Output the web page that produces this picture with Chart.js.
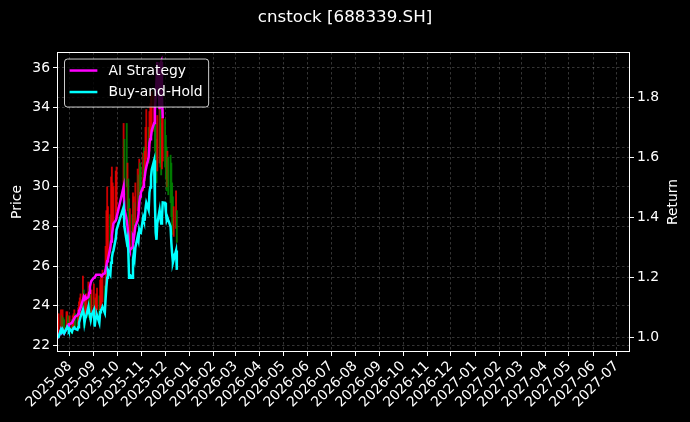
<!DOCTYPE html>
<html>
<head>
<meta charset="utf-8">
<script src="https://cdn.jsdelivr.net/npm/chart.js@4/dist/chart.umd.min.js"></script>
<style>
html,body{margin:0;padding:0;background:#000;}
#wrap{width:690px;height:422px;position:relative;}
</style>
</head>
<body>
<div id="wrap"><canvas id="c" width="690" height="422"></canvas></div>
<script>
const chartTitle = 'cnstock [688339.SH]';
const seriesNames = ['AI Strategy', 'Buy-and-Hold'];
const axisTitles = ['Price', 'Return'];

const dates = [
'2025-07-17','2025-07-18','2025-07-21','2025-07-22','2025-07-23','2025-07-24','2025-07-25','2025-07-28','2025-07-29','2025-07-30','2025-07-31',
'2025-08-01','2025-08-04','2025-08-05','2025-08-06','2025-08-07','2025-08-08','2025-08-11','2025-08-12','2025-08-13','2025-08-14','2025-08-15',
'2025-08-18','2025-08-19','2025-08-20','2025-08-21','2025-08-22','2025-08-25','2025-08-26','2025-08-27','2025-08-28','2025-08-29',
'2025-09-01','2025-09-02','2025-09-03','2025-09-04','2025-09-05','2025-09-08','2025-09-09','2025-09-10','2025-09-11','2025-09-12',
'2025-09-15','2025-09-16','2025-09-17','2025-09-18','2025-09-19','2025-09-22','2025-09-23','2025-09-24','2025-09-25','2025-09-26',
'2025-09-29','2025-09-30',
'2025-10-09','2025-10-10','2025-10-13','2025-10-14','2025-10-15','2025-10-16','2025-10-17','2025-10-20','2025-10-21','2025-10-22',
'2025-10-23','2025-10-24','2025-10-27','2025-10-28','2025-10-29','2025-10-30','2025-10-31',
'2025-11-03','2025-11-04','2025-11-05','2025-11-06','2025-11-07','2025-11-10','2025-11-11','2025-11-12','2025-11-13','2025-11-14',
'2025-11-17','2025-11-18','2025-11-19','2025-11-20','2025-11-21','2025-11-24','2025-11-25','2025-11-26','2025-11-27','2025-11-28',
'2025-12-01','2025-12-02','2025-12-03','2025-12-04','2025-12-05','2025-12-08','2025-12-09','2025-12-10','2025-12-11','2025-12-12',
'2025-12-15','2025-12-16'
];

const priceLow = [
22.4,22.6,22.9,22.7,22.9,22.7,22.6,22.8,23.0,22.9,22.7,
22.8,22.6,22.8,22.9,23.0,22.9,22.8,23.0,23.3,23.5,23.6,
23.6,23.6,22.9,23.4,23.6,23.6,23.4,23.3,23.2,23.4,
23.6,23.1,23.4,23.6,23.8,23.4,23.8,24.0,24.0,24.2,
23.9,24.8,25.5,26.0,26.5,26.7,27.2,27.5,28.0,28.2,
28.3,28.8,
29.5,29.6,30.0,28.8,28.2,26.9,26.8,26.8,27.4,27.8,
27.6,28.2,28.8,29.0,29.6,29.5,29.4,
29.8,30.2,30.3,31.0,31.4,31.2,31.8,32.2,32.6,33.0,
32.8,31.8,30.6,30.2,30.8,31.2,31.0,30.6,30.9,31.3,
31.0,30.4,29.8,30.0,29.6,29.2,28.5,28.0,27.6,27.5,
27.9,27.2
];

const priceHigh = [
23.4,23.6,23.8,23.5,23.8,23.4,23.3,23.7,23.7,23.5,23.4,
23.5,23.3,23.5,23.6,23.8,23.6,23.5,23.9,24.2,24.4,24.6,
25.5,24.8,24.4,24.5,24.6,25.2,24.9,24.7,24.5,24.8,
25.1,24.3,24.4,24.6,24.9,24.5,25.3,25.5,25.3,25.8,
25.0,27.0,28.8,30.0,29.0,28.6,30.5,31.0,30.2,30.0,
30.8,31.0,
33.2,32.4,33.2,31.2,30.4,29.4,28.9,28.6,29.7,29.5,
29.2,30.2,30.9,30.6,31.4,31.2,31.0,
31.7,32.0,31.8,33.0,33.9,33.0,33.8,34.2,34.6,34.8,
34.6,34.0,33.2,32.4,33.6,34.0,33.9,33.2,33.5,33.9,
33.4,32.6,32.0,31.8,31.5,31.6,31.2,30.2,29.5,29.0,
29.8,28.8
];

const aiStrategy = [
1.000,1.003,1.027,1.020,1.027,1.020,1.015,1.030,1.037,1.040,1.045,
1.045,1.050,1.055,1.060,1.065,1.070,1.075,1.080,1.090,1.093,1.100,
1.126,1.136,1.130,1.136,1.130,1.136,1.150,1.170,1.183,1.190,
1.200,1.200,1.205,1.210,1.210,1.210,1.210,1.210,1.205,1.210,
1.215,1.226,1.240,1.255,1.260,1.300,1.320,1.340,1.360,1.380,
1.390,1.400,
1.502,1.430,1.390,1.370,1.340,1.300,1.292,1.300,1.336,1.330,
1.350,1.370,1.390,1.410,1.449,1.470,1.482,
1.502,1.520,1.535,1.555,1.568,1.600,1.648,1.660,1.668,1.690,
1.714,1.757,1.800,1.850,1.917,1.760,1.910,1.917,1.800,1.730,
null,null,null,null,null,null,null,null,null,null,
null,null
];

const buyHold = [
1.000,1.003,1.027,1.020,1.027,1.020,1.015,1.030,1.037,1.033,1.025,
1.030,1.020,1.028,1.033,1.035,1.030,1.027,1.035,1.050,1.060,1.070,
1.093,1.080,1.050,1.065,1.070,1.103,1.083,1.075,1.060,1.075,
1.093,1.037,1.060,1.070,1.075,1.050,1.085,1.093,1.095,1.103,
1.083,1.130,1.170,1.200,1.226,1.210,1.250,1.265,1.282,1.290,
1.330,1.359,
1.435,1.370,1.320,1.330,1.290,1.200,1.210,1.200,1.260,1.280,
1.265,1.300,1.336,1.325,1.359,1.350,1.349,
1.400,1.390,1.392,1.430,1.449,1.425,1.482,1.500,1.535,1.560,
1.590,1.450,1.350,1.326,1.380,1.425,1.400,1.380,1.400,1.450,
1.449,1.420,1.392,1.400,1.392,1.370,1.316,1.280,1.250,1.260,
1.290,1.226
];

const monthTicks = [
'2025-08','2025-09','2025-10','2025-11','2025-12',
'2026-01','2026-02','2026-03','2026-04','2026-05','2026-06','2026-07','2026-08','2026-09','2026-10','2026-11','2026-12',
'2027-01','2027-02','2027-03','2027-04','2027-05','2027-06','2027-07'
];
const priceTicks = [22, 24, 26, 28, 30, 32, 34, 36];
const returnTicks = [1.0, 1.2, 1.4, 1.6, 1.8];

// ---- styling ----
const FONT = 'DejaVu Sans';
const TICK_SIZE = 13.9;
const upColor = 'rgba(235,0,0,0.85)';
const downColor = 'rgba(0,130,0,0.9)';
const gridColor = 'rgba(255,255,255,0.26)';
const DAY = 86400000;
const toMs = s => Date.parse(s + 'T00:00:00Z');
const xMin = Date.UTC(2025, 6, 16) - 0.1 * DAY;
const xMax = Date.UTC(2027, 6, 18);

const xs = dates.map(toMs);
const barData = xs.map((x, i) => ({x: x, y: [priceLow[i], priceHigh[i]]}));
const barColors = buyHold.map((v, i) => (i === 0 || v >= buyHold[i - 1]) ? upColor : downColor);
const aiData = xs.map((x, i) => ({x: x, y: aiStrategy[i]}));
const bhData = xs.map((x, i) => ({x: x, y: buyHold[i]}));

const framePlugin = {
  id: 'frameAndLegend',
  afterDatasetsDraw(chart) {
    const {ctx, chartArea: a} = chart;
    ctx.save();
    ctx.strokeStyle = '#ffffff';
    ctx.lineWidth = 1;
    ctx.strokeRect(Math.round(a.left) + 0.5, Math.round(a.top) + 0.5,
                   Math.round(a.right - a.left) - 1, Math.round(a.bottom - a.top) - 1);

    // right axis title, reading bottom-to-top like matplotlib
    ctx.save();
    ctx.translate(673.5, (a.top + a.bottom) / 2);
    ctx.rotate(-Math.PI / 2);
    ctx.font = TICK_SIZE + 'px "' + FONT + '"';
    ctx.fillStyle = '#ffffff';
    ctx.textAlign = 'center';
    ctx.textBaseline = 'middle';
    ctx.fillText(axisTitles[1], 0, 0);
    ctx.restore();

    // legend (matplotlib style, upper left)
    const fs = TICK_SIZE;
    ctx.font = fs + 'px "' + FONT + '"';
    const items = [
      {label: chart.data.datasets[1].label, color: chart.data.datasets[1].borderColor},
      {label: chart.data.datasets[2].label, color: chart.data.datasets[2].borderColor}
    ];
    const textW = Math.max(...items.map(it => ctx.measureText(it.label).width));
    const x0 = a.left + 7, y0 = a.top + 6.5;
    const pad = 0.4 * fs, handle = 2 * fs, gap = 0.8 * fs;
    const w = pad + handle + gap + textW + pad;
    const h = 48;
    ctx.beginPath();
    ctx.roundRect(x0 + 0.5, y0 + 0.5, w, h, 3);
    ctx.fillStyle = 'rgba(0,0,0,0.8)';
    ctx.fill();
    ctx.strokeStyle = 'rgba(255,255,255,0.8)';
    ctx.lineWidth = 1;
    ctx.stroke();
    items.forEach((it, k) => {
      const cy = y0 + 12 + k * 21.5;
      ctx.beginPath();
      ctx.strokeStyle = it.color;
      ctx.lineWidth = 2.5;
      ctx.moveTo(x0 + pad, cy);
      ctx.lineTo(x0 + pad + handle, cy);
      ctx.stroke();
      ctx.fillStyle = '#ffffff';
      ctx.textBaseline = 'middle';
      ctx.textAlign = 'left';
      ctx.fillText(it.label, x0 + pad + handle + gap, cy + 0.5);
    });
    ctx.restore();
  }
};

new Chart(document.getElementById('c'), {
  type: 'bar',
  data: {
    datasets: [
      {
        type: 'bar',
        label: 'Price range',
        data: barData,
        backgroundColor: barColors,
        borderWidth: 0,
        barThickness: 1.2,
        yAxisID: 'y',
        xAxisID: 'x',
        order: 3
      },
      {
        type: 'line',
        label: seriesNames[0],
        data: aiData,
        borderColor: '#ff00ff',
        backgroundColor: '#ff00ff',
        borderWidth: 2.5,
        pointRadius: 0,
        tension: 0,
        fill: false,
        spanGaps: false,
        yAxisID: 'y2',
        xAxisID: 'x',
        order: 2
      },
      {
        type: 'line',
        label: seriesNames[1],
        data: bhData,
        borderColor: '#00ffff',
        backgroundColor: '#00ffff',
        borderWidth: 2.5,
        pointRadius: 0,
        tension: 0,
        fill: false,
        yAxisID: 'y2',
        xAxisID: 'x',
        order: 1
      }
    ]
  },
  options: {
    responsive: false,
    animation: false,
    devicePixelRatio: 1,
    layout: {padding: 0},
    plugins: {
      legend: {display: false},
      tooltip: {enabled: false},
      title: {
        display: true,
        text: chartTitle,
        color: '#ffffff',
        font: {family: FONT, size: 16.7, weight: 'normal'},
        padding: {top: 8, bottom: 24}
      }
    },
    scales: {
      x: {
        type: 'linear',
        min: xMin,
        max: xMax,
        offset: false,
        afterBuildTicks: s => { s.ticks = monthTicks.map(m => ({value: toMs(m + '-01')})); },
        afterFit: s => { s.height = 70; },
        ticks: {
          autoSkip: false,
          minRotation: 45,
          maxRotation: 45,
          color: '#ffffff',
          padding: 2,
          font: {family: FONT, size: TICK_SIZE},
          callback: (v, i) => monthTicks[i]
        },
        grid: {color: gridColor, lineWidth: 0.8, offset: false, drawTicks: true,
               tickColor: '#ffffff', tickLength: 4, tickWidth: 1, tickBorderDash: []},
        border: {display: false, dash: [2.5, 2.5]}
      },
      y: {
        type: 'linear',
        position: 'left',
        min: 21.67,
        max: 36.8,
        afterBuildTicks: s => { s.ticks = priceTicks.map(v => ({value: v})); },
        afterFit: s => { s.width = 57; },
        ticks: {color: '#ffffff', padding: 3, font: {family: FONT, size: TICK_SIZE},
                callback: v => String(v)},
        grid: {color: gridColor, lineWidth: 0.8, drawTicks: true,
               tickColor: '#ffffff', tickLength: 4, tickWidth: 1, tickBorderDash: []},
        border: {display: false, dash: [2.5, 2.5]},
        title: {display: true, text: axisTitles[0], color: '#ffffff',
                font: {family: FONT, size: TICK_SIZE}, padding: {top: 9, bottom: 0}}
      },
      y2: {
        type: 'linear',
        position: 'right',
        min: 0.953,
        max: 1.950,
        afterBuildTicks: s => { s.ticks = returnTicks.map(v => ({value: v})); },
        afterFit: s => { s.width = 60; },
        ticks: {color: '#ffffff', padding: 3, font: {family: FONT, size: TICK_SIZE},
                callback: v => Number(v).toFixed(1)},
        grid: {color: gridColor, lineWidth: 0.8, drawTicks: true,
               tickColor: '#ffffff', tickLength: 4, tickWidth: 1, tickBorderDash: []},
        border: {display: false, dash: [2.5, 2.5]},
        title: {display: false}
      }
    }
  },
  plugins: [framePlugin]
});
</script>
</body>
</html>
